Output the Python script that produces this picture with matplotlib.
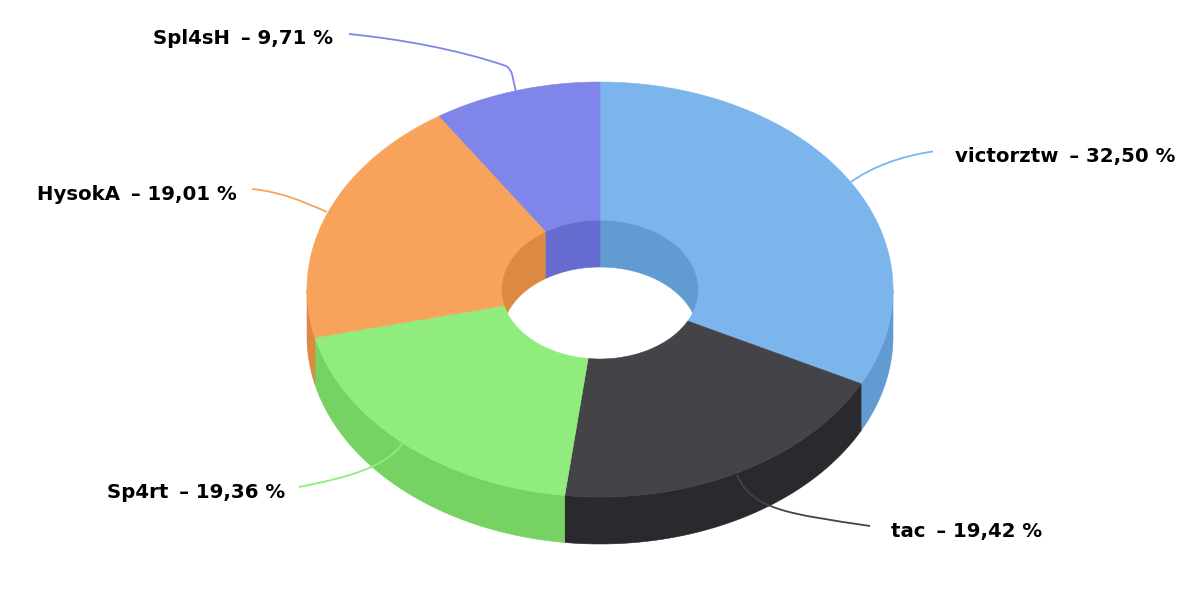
import numpy as np
import matplotlib
matplotlib.use("Agg")
import matplotlib.pyplot as plt
from matplotlib.patches import Polygon, PathPatch
from matplotlib.path import Path

# ---- data ----
names = ["victorztw", "tac", "Sp4rt", "HysokA", "Spl4sH"]
shares = [32.50, 19.42, 19.36, 19.01, 9.71]
top_colors = ["#7cb5ec", "#434348", "#90ed7d", "#f7a35c", "#8085e9"]
side_colors = ["#629bd2", "#29292e", "#76d363", "#dd8942", "#666bcf"]

# ---- layout (pixels) ----
CX, CY = 600, 289.5
RX, RY = 293, 207.5
IRX, IRY = 98.5, 69.5
DEPTH = 47
BACK_SKEW = 3.6  # degrees of foreshortening on the far half of the ring
label_pos = [(955, 162), (891, 536.5), (107, 498.5), (37, 200.5), (153, 44.5)]
C4 = Path.CURVE4
C3 = Path.CURVE3
leaders = [
    ([(851, 182), (870, 168), (900, 156), (933, 151.5)], [Path.MOVETO, C4, C4, C4]),
    ([(737, 475), (752, 510), (790, 514), (870, 526)], [Path.MOVETO, C4, C4, C4]),
    ([(403, 443), (385, 468), (345, 478), (299, 487)], [Path.MOVETO, C4, C4, C4]),
    ([(327, 212), (300, 200), (280, 192), (252, 189)], [Path.MOVETO, C4, C4, C4]),
    ([(349, 34), (400, 39), (460, 50), (506, 66), (510, 68), (512, 74), (516, 92)],
     [Path.MOVETO, C4, C4, C4, C3, C3, Path.LINETO]),
]

fig = plt.figure(figsize=(12, 6.08), dpi=100, facecolor="white")
ax = fig.add_axes([0, 0, 1, 1])
ax.set_xlim(0, 1200)
ax.set_ylim(608, 0)
ax.axis("off")


def arc(a0, a1, rx, ry, dy=0.0, n=160):
    t = np.radians(np.linspace(a0, a1, n))
    return np.column_stack([CX + rx * np.sin(t), CY - ry * np.cos(t) + dy])


def fill(points, color, z):
    ax.add_patch(Polygon(points, closed=True, facecolor=color, edgecolor=color,
                         linewidth=0.4, zorder=z))


edges = np.concatenate([[0], np.cumsum(shares)]) / np.sum(shares) * 360
rad = np.radians(edges)
edges = edges - BACK_SKEW * np.clip(np.cos(rad), 0, None) * np.sin(rad)

for i, name in enumerate(names):
    a0, a1 = edges[i], edges[i + 1]
    # outer wall: near half of the ring (90..270 degrees)
    lo, hi = max(a0, 90), min(a1, 270)
    if lo < hi:
        fill(np.vstack([arc(lo, hi, RX, RY), arc(hi, lo, RX, RY, DEPTH)]), side_colors[i], 1)
    # inner wall: far half of the hole
    for lo, hi in ((max(a0, 270), min(a1, 360)), (max(a0, 0), min(a1, 90))):
        if lo < hi:
            fill(np.vstack([arc(lo, hi, IRX, IRY), arc(hi, lo, IRX, IRY, DEPTH)]), side_colors[i], 1)

for i, name in enumerate(names):
    a0, a1 = edges[i], edges[i + 1]
    fill(np.vstack([arc(a0, a1, RX, RY), arc(a1, a0, IRX, IRY)]), top_colors[i], 2)

for i, name in enumerate(names):
    verts, codes = leaders[i]
    ax.add_patch(PathPatch(Path(verts, codes), facecolor="none", edgecolor=top_colors[i],
                           linewidth=1.3, zorder=3))
    x, y = label_pos[i]
    value = f"{shares[i]:.2f}".replace(".", ",")
    ax.text(x, y, f"{name}\u2009 \u2013 {value} %", fontsize=14.2,
            fontweight="bold", family="DejaVu Sans", color="black", ha="left", va="baseline", zorder=4)

fig.savefig("out.png", dpi=100, facecolor="white")
